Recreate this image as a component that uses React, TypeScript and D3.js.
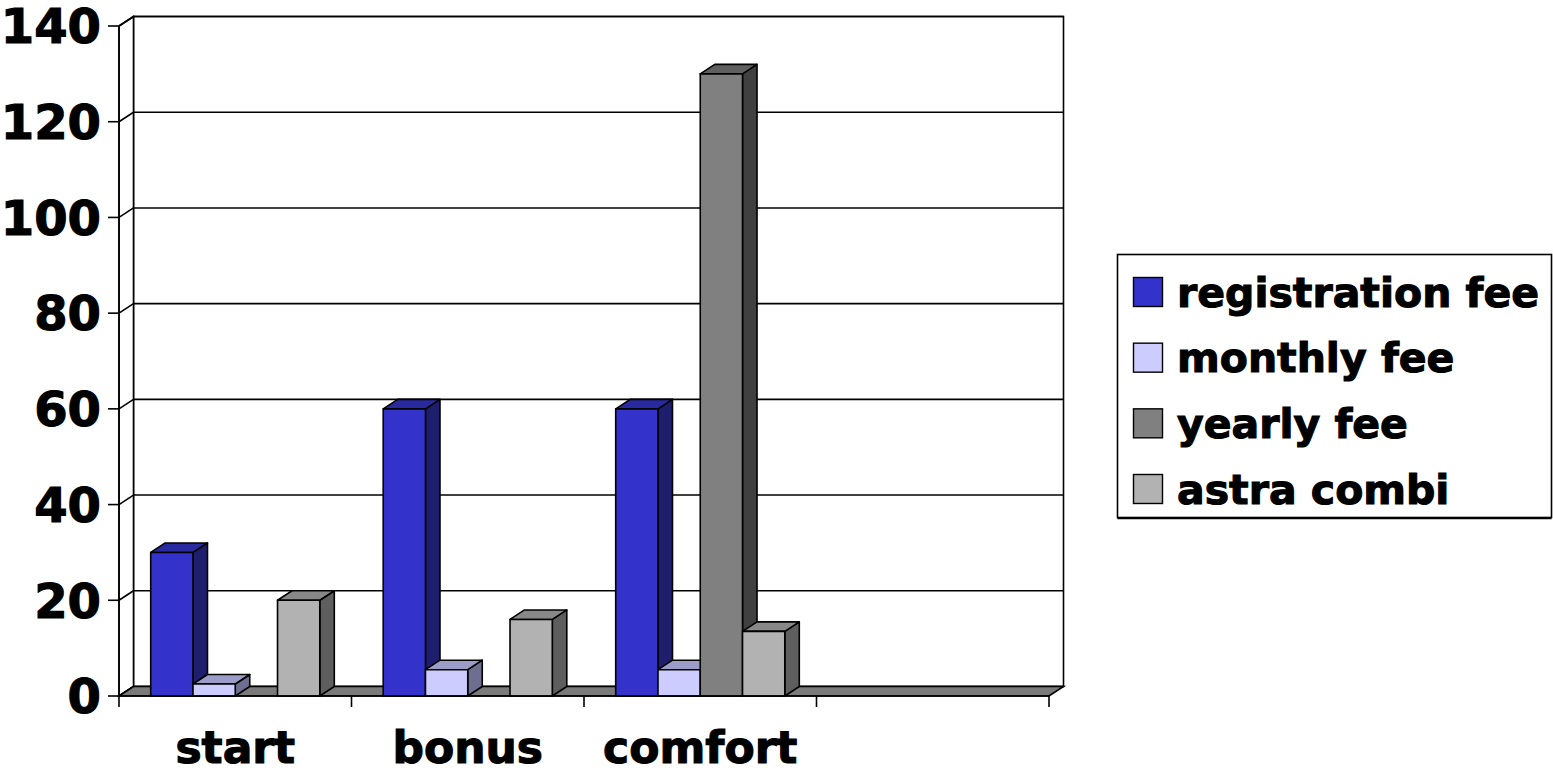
import React from "react";
import * as d3 from "d3";

// Plan categories (the last slot is left empty on the axis)
const categories = ["start", "bonus", "comfort", ""];
const seriesNames = ["registration fee", "monthly fee", "yearly fee", "astra combi"];

// Values per series, one entry per category (null = no bar)
const registrationFee: (number | null)[] = [30, 60, 60, null];
const monthlyFee: (number | null)[] = [2.5, 5.5, 5.5, null];
const yearlyFee: (number | null)[] = [null, null, 130, null];
const astraCombi: (number | null)[] = [20, 16, 13.5, null];

const yTicks = [0, 20, 40, 60, 80, 100, 120, 140];

const seriesValues = [registrationFee, monthlyFee, yearlyFee, astraCombi];

// front / top / side shades for the 3D columns
const palette = [
  { front: "#3333CC", top: "#2A2AA0", side: "#1E1E6E" },
  { front: "#CCCCFF", top: "#9C9CC8", side: "#6E6E90" },
  { front: "#808080", top: "#606060", side: "#404040" },
  { front: "#B2B2B2", top: "#888888", side: "#5E5E5E" },
];

const W = 1553;
const H = 770;
const FONT = "'DejaVu Sans', Verdana, sans-serif";

// heavy label style
const labelStyle = {
  fontFamily: FONT,
  fontWeight: "bold" as const,
  stroke: "#000",
  strokeWidth: 1.1,
  fill: "#000",
};

export default function App() {
  const left = 119;
  const right = 1049;
  const base = 696;
  const top = 26;
  const dx = 14.5;
  const dy = -9.5;

  const y = d3.scaleLinear().domain([0, 140]).range([base, top]);
  const x0 = d3.scaleBand<string>().domain(categories.map((c, i) => String(i))).range([left, right]).padding(0);
  const x1 = d3
    .scaleBand<string>()
    .domain(seriesNames)
    .range([0, x0.bandwidth()])
    .paddingInner(0)
    .paddingOuter(0.75);

  const pts = (p: [number, number][]) => p.map((q) => q.join(",")).join(" ");

  const bars: React.ReactNode[] = [];
  categories.forEach((c, ci) => {
    seriesNames.forEach((s, si) => {
      const v = seriesValues[si][ci];
      if (v == null || v <= 0) return;
      const xl = x0(String(ci))! + x1(s)!;
      const w = x1.bandwidth();
      const yt = y(v);
      const col = palette[si];
      bars.push(
        <g key={`${ci}-${si}`} stroke="#000" strokeWidth={1.6} strokeLinejoin="round">
          <polygon
            points={pts([
              [xl + w, yt],
              [xl + w + dx, yt + dy],
              [xl + w + dx, base + dy],
              [xl + w, base],
            ])}
            fill={col.side}
          />
          <polygon
            points={pts([
              [xl, yt],
              [xl + dx, yt + dy],
              [xl + w + dx, yt + dy],
              [xl + w, yt],
            ])}
            fill={col.top}
          />
          <rect x={xl} y={yt} width={w} height={base - yt} fill={col.front} />
        </g>
      );
    });
  });

  const legendX = 1117.5;
  const legendY = 254.5;
  const legendW = 434;
  const legendH = 263;
  const rowY = d3.scalePoint<string>().domain(seriesNames).range([292, 489]);

  return (
    <svg width={W} height={H} style={{ position: "absolute", left: 0, top: 0, background: "#fff" }}>
      {/* back wall */}
      <rect
        x={left + dx}
        y={top + dy}
        width={right - left}
        height={base - top}
        fill="#fff"
        stroke="#000"
        strokeWidth={1.6}
      />
      {/* side wall */}
      <polygon
        points={pts([
          [left, base],
          [left + dx, base + dy],
          [left + dx, top + dy],
          [left, top],
        ])}
        fill="#fff"
        stroke="#000"
        strokeWidth={1.6}
      />
      {/* gridlines */}
      {yTicks.map((t) => (
        <g key={t} stroke="#000" strokeWidth={1.6}>
          <line x1={left + dx} x2={right + dx} y1={y(t) + dy} y2={y(t) + dy} />
          <line x1={left} x2={left + dx} y1={y(t)} y2={y(t) + dy} />
        </g>
      ))}
      {/* floor */}
      <polygon
        points={pts([
          [left, base],
          [right, base],
          [right + dx, base + dy],
          [left + dx, base + dy],
        ])}
        fill="#7A7A7A"
        stroke="#000"
        strokeWidth={1.6}
      />
      {bars}
      {/* value axis */}
      <line x1={left} x2={left} y1={top} y2={base} stroke="#000" strokeWidth={1.6} />
      {yTicks.map((t) => (
        <g key={`yt${t}`}>
          <line x1={left - 11} x2={left} y1={y(t)} y2={y(t)} stroke="#000" strokeWidth={1.6} />
          <text x={101} y={y(t)} dy="0.36em" textAnchor="end" fontSize={48} {...labelStyle}>
            {t}
          </text>
        </g>
      ))}
      {/* category axis */}
      <line x1={left} x2={right} y1={base} y2={base} stroke="#000" strokeWidth={1.6} />
      {d3.range(categories.length + 1).map((i) => {
        const xx = left + i * x0.step();
        return <line key={`xt${i}`} x1={xx} x2={xx} y1={base} y2={base + 11} stroke="#000" strokeWidth={1.6} />;
      })}
      {categories.map((c, i) => (
        <text
          key={`cl${i}`}
          x={x0(String(i))! + x0.bandwidth() / 2}
          y={763}
          textAnchor="middle"
          fontSize={44}
          {...labelStyle}
        >
          {c}
        </text>
      ))}
      {/* legend */}
      <rect x={legendX} y={legendY} width={legendW} height={legendH} fill="#fff" stroke="#000" strokeWidth={1.6} />
      <line
        x1={legendX}
        x2={legendX + legendW}
        y1={legendY + legendH + 1}
        y2={legendY + legendH + 1}
        stroke="#000"
        strokeWidth={1.5}
      />
      {seriesNames.map((s, i) => (
        <g key={s}>
          <rect
            x={1133.5}
            y={rowY(s)! - 14.5}
            width={29}
            height={29}
            fill={palette[i].front}
            stroke="#000"
            strokeWidth={1.4}
          />
          <text x={1177} y={rowY(s)!} dy="0.36em" fontSize={41} {...labelStyle}>
            {s}
          </text>
        </g>
      ))}
    </svg>
  );
}
